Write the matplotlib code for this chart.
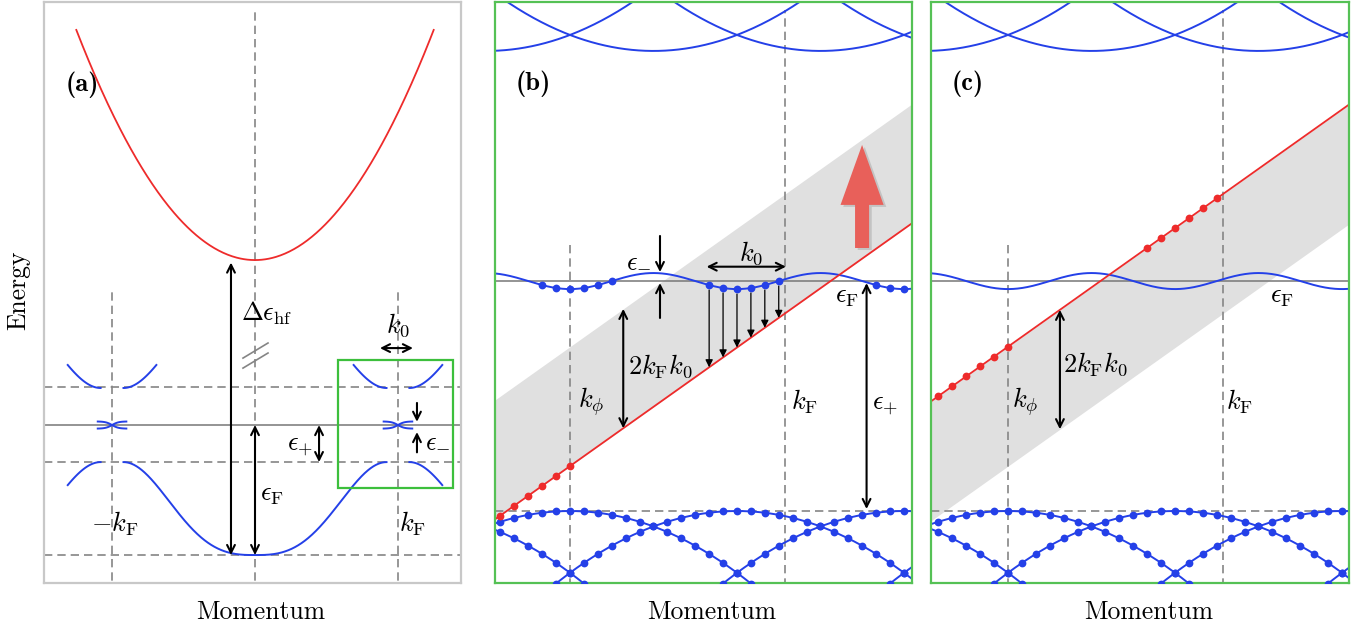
"""Band schematic: (a) full dispersion, (b)/(c) folded bands with a tilted probe band."""
import numpy as np
import matplotlib
matplotlib.use("Agg")
import matplotlib.pyplot as plt
from matplotlib.patches import Rectangle, FancyArrow

plt.rcParams["mathtext.fontset"] = "cm"
plt.rcParams["axes.unicode_minus"] = False

BLUE = "#2440e8"
RED = "#ee2b2b"
GREEN = "#55c155"
SHADE = "#e0e0e0"
DASH = "#858585"
FS = 19

# ---------------- panel (a) parameters (kF = 1, eF = 1) ----------------
kF_a = 1.0
eF_a = 1.0
gap_top = 1.292
gap_bot = 0.715
hf_min = 2.269        # minimum of the red band
hf_curv = 1.133
hf_xmax = 1.25
band_flat = 0.92      # lower band reaches the gap edge here
band_pow = 1.4
band_outer = 1.31
x_cross = 0.1
cross_h = 0.027
green_box = (0.58, 0.515, 1.385, 1.50)   # x0, y0, x1, y1

# ---------------- panels (b), (c) parameters ----------------
period = 1.0
k_phi = 0.0
kF_b = 1.285
eF_b = 1.808
wave_amp = 0.048
low_top = 0.431
low_curv = 0.37
up_bot = 3.186
up_curv = 0.383
probe_e0 = 0.70       # red line at k_phi in (b)
probe_slope = 0.71
shift = 0.715         # 2 kF k0
dot_step = period / 12
wave_dot_k = [-2, -1, 0, 1, 2, 3]
red_dot_k = [0, 1, 2, 3, 4, 5]


def lower_band(x):
    s = np.clip(np.abs(x) / band_flat, 0, 1) ** band_pow
    return gap_bot * (1 - np.cos(np.pi * s)) / 2


def arrow(ax, x0, y0, x1, y1, style="->", lw=1.5, ms=14):
    ax.annotate("", xy=(x1, y1), xytext=(x0, y0),
                arrowprops=dict(arrowstyle=style, color="k", lw=lw,
                                shrinkA=0, shrinkB=0, mutation_scale=ms))


def frame(ax, color):
    ax.set_xticks([])
    ax.set_yticks([])
    for sp in ax.spines.values():
        sp.set_color(color)
        sp.set_linewidth(1.6)


fig = plt.figure(figsize=(13.65, 6.32), dpi=100)
axA = fig.add_axes([44 / 1365, 49 / 632, 417 / 1365, 581 / 632])
axB = fig.add_axes([495 / 1365, 49 / 632, 417 / 1365, 581 / 632])
axC = fig.add_axes([931 / 1365, 49 / 632, 418 / 1365, 581 / 632])

# ======================= (a) =======================
ax = axA
ax.set_xlim(-1.476, 1.441)
ax.set_ylim(-0.215, 4.254)
frame(ax, "#c8c8c8")

dash = dict(color=DASH, lw=1.2, ls=(0, (5, 3)), zorder=1)
for e in [gap_top, gap_bot, 0.0]:
    ax.axhline(e, **dash)
ax.axhline(eF_a, color="#777777", lw=1.1, zorder=1)
ax.plot([-kF_a, -kF_a], [-0.3, 2.04], **dash)
ax.plot([kF_a, kF_a], [-0.3, 2.04], **dash)
ax.plot([0, 0], [-0.3, 4.19], **dash)

xr = np.linspace(-hf_xmax, hf_xmax, 400)
ax.plot(xr, hf_min + hf_curv * xr ** 2, color=RED, lw=1.3, zorder=2)

xc = np.linspace(-band_flat, band_flat, 400)
ax.plot(xc, lower_band(xc), color=BLUE, lw=1.4, zorder=2)
for sgn in (-1, 1):
    xo = sgn * np.linspace(2 * kF_a - band_flat, band_outer, 80)
    ax.plot(xo, lower_band(2 * kF_a - np.abs(xo)), color=BLUE, lw=1.4, zorder=2)
    xu = sgn * np.linspace(2 * kF_a - band_outer, band_flat, 80)
    ax.plot(xu, 2 * eF_a - lower_band(np.abs(xu)), color=BLUE, lw=1.4, zorder=2)
    ax.plot(xo, 2 * eF_a - lower_band(2 * kF_a - np.abs(xo)), color=BLUE, lw=1.4, zorder=2)
    xx = sgn * kF_a + np.linspace(-x_cross, x_cross, 60)
    t = np.tanh((xx - sgn * kF_a) / 0.045) / np.tanh(x_cross / 0.045)
    ax.plot(xx, eF_a + cross_h * t, color=BLUE, lw=1.4, zorder=2)
    ax.plot(xx, eF_a - cross_h * t, color=BLUE, lw=1.4, zorder=2)

# break mark on the long arrow
for off in (0.0, -0.077):
    ax.plot([-0.084, 0.091], [1.515 + off, 1.631 + off], color=DASH, lw=1.2, zorder=2)

arrow(ax, -0.168, 0.0, -0.168, 2.25, "<->")
arrow(ax, 0.0, 0.0, 0.0, eF_a, "<->")
arrow(ax, 0.448, gap_bot, 0.448, eF_a, "<->")
arrow(ax, 1.133, 1.17, 1.133, 1.025, "->")
arrow(ax, 1.133, 0.79, 1.133, 0.946, "->")
arrow(ax, 0.874, 1.592, 1.105, 1.592, "<->")

x0, y0, x1, y1 = green_box
ax.add_patch(Rectangle((x0, y0), x1 - x0, y1 - y0, fill=False,
                       ec="#3cbf3c", lw=1.6, zorder=3))

ax.text(-1.21, 3.62, "(a)", fontsize=19, family="cmb10", ha="center", va="center")
ax.text(-0.10, 1.86, r"$\Delta\epsilon_{\rm hf}$", fontsize=FS, ha="left", va="center")
ax.text(0.119, 0.47, r"$\epsilon_{\rm F}$", fontsize=FS, ha="center", va="center")
ax.text(0.315, 0.85, r"$\epsilon_{+}$", fontsize=FS, ha="center", va="center")
ax.text(1.19, 0.885, r"$\epsilon_{-}$", fontsize=FS, ha="left", va="center")
ax.text(1.0, 1.77, r"$k_0$", fontsize=FS, ha="center", va="center")
ax.text(-0.979, 0.238, r"$-k_{\rm F}$", fontsize=FS, ha="center", va="center")
ax.text(1.105, 0.238, r"$k_{\rm F}$", fontsize=FS, ha="center", va="center")


# ======================= (b), (c) =======================
def lattice_panel(ax, xlim, red_e0, shade_lo, shade_hi, red_dot_x, wave_dots):
    ax.set_xlim(*xlim)
    ax.set_ylim(0, 3.479)
    frame(ax, GREEN)
    x = np.linspace(xlim[0], xlim[1], 600)
    red = red_e0 + probe_slope * (x - k_phi)
    ax.fill_between(x, red + shade_lo, red + shade_hi, color=SHADE, lw=0, zorder=0)

    ax.axhline(eF_b, color="#777777", lw=1.1, zorder=1)
    ax.axhline(low_top, **dash)
    ax.plot([k_phi, k_phi], [-0.1, 2.036], **dash)
    ax.plot([kF_b, kF_b], [-0.1, 3.43], **dash)

    # folded bands, upper and lower
    for n in range(-2, 4):
        cu = k_phi + (n + 0.5) * period
        xu = np.linspace(cu - 1.0, cu + 1.0, 300)
        ax.plot(xu, up_bot + up_curv * (xu - cu) ** 2, color=BLUE, lw=1.4, zorder=2)
        cl = k_phi + n * period
        xl = np.linspace(cl - 1.2, cl + 1.2, 300)
        ax.plot(xl, low_top - low_curv * (xl - cl) ** 2, color=BLUE, lw=1.4, zorder=2)
        kd = cl + np.arange(-13, 14) * dot_step
        ax.plot(kd, low_top - low_curv * (kd - cl) ** 2, "o", color=BLUE,
                ms=5.6, mec="none", zorder=3)

    ax.plot(x, eF_b - wave_amp * np.cos(2 * np.pi * (x - k_phi) / period),
            color=BLUE, lw=1.4, zorder=2)
    if wave_dots:
        for n in range(0, 3):
            wx = np.array([k_phi + n * period + k * dot_step for k in wave_dot_k])
            wx = wx[wx < xlim[1]]
            ax.plot(wx, eF_b - wave_amp * np.cos(2 * np.pi * (wx - k_phi) / period),
                    "o", color=BLUE, ms=5.6, mec="none", zorder=3)

    ax.plot(x, red, color=RED, lw=1.3, zorder=2)
    rd = np.array(red_dot_x)
    ax.plot(rd, red_e0 + probe_slope * (rd - k_phi), "o", color=RED,
            ms=5.6, mec="none", zorder=3)
    return red


left_dots = [k_phi - k * dot_step for k in red_dot_k]

# (b)
ax = axB
lattice_panel(ax, (-0.449, 2.048), probe_e0, 0.0, shift, left_dots, True)
for k in wave_dot_k:
    xx = k_phi + period + k * dot_step
    top = eF_b - wave_amp * np.cos(2 * np.pi * (xx - k_phi) / period) - 0.03
    arrow(ax, xx, top, xx, probe_e0 + probe_slope * xx, "-|>", lw=0.9, ms=11)
arrow(ax, 0.539, 2.078, 0.539, 1.862, "->")
arrow(ax, 0.539, 1.587, 0.539, 1.796, "->")
arrow(ax, 0.818, 1.894, 1.293, 1.894, "<->")
x2k = 0.319
arrow(ax, x2k, probe_e0 + probe_slope * x2k, x2k, probe_e0 + probe_slope * x2k + shift, "<->")
arrow(ax, 1.776, 0.443, 1.776, 1.796, "<->")
ax.add_patch(FancyArrow(1.765, 1.994, 0, 0.617, width=0.084, head_width=0.258,
                        head_length=0.359, length_includes_head=True,
                        color="#a0a0a0", alpha=0.45, lw=0, zorder=4))
ax.add_patch(FancyArrow(1.749, 2.006, 0, 0.617, width=0.084, head_width=0.258,
                        head_length=0.359, length_includes_head=True,
                        color="#e8605a", lw=0, zorder=5))
ax.text(-0.222, 2.988, "(b)", fontsize=19, family="cmb10", ha="center", va="center")
ax.text(0.413, 1.934, r"$\epsilon_{-}$", fontsize=FS, ha="center", va="center")
ax.text(1.084, 1.976, r"$k_0$", fontsize=FS, ha="center", va="center")
ax.text(0.539, 1.30, r"$2k_{\rm F}k_0$", fontsize=FS, ha="center", va="center")
ax.text(0.126, 1.084, r"$k_\phi$", fontsize=FS, ha="center", va="center")
ax.text(1.407, 1.084, r"$k_{\rm F}$", fontsize=FS, ha="center", va="center")
ax.text(1.659, 1.719, r"$\epsilon_{\rm F}$", fontsize=FS, ha="center", va="center")
ax.text(1.886, 1.072, r"$\epsilon_{+}$", fontsize=FS, ha="center", va="center")

# (c): probe band raised by 2 kF k0, carrying the transferred electrons
ax = axC
moved_dots = [k_phi + period + k * dot_step for k in wave_dot_k]
lattice_panel(ax, (-0.461, 2.042), probe_e0 + shift, -shift, 0.0,
              left_dots + moved_dots, False)
x2k = 0.311
e_top = probe_e0 + shift + probe_slope * x2k
arrow(ax, x2k, e_top - shift, x2k, e_top, "<->")
ax.text(-0.24, 2.988, "(c)", fontsize=19, family="cmb10", ha="center", va="center")
ax.text(0.521, 1.311, r"$2k_{\rm F}k_0$", fontsize=FS, ha="center", va="center")
ax.text(0.102, 1.084, r"$k_\phi$", fontsize=FS, ha="center", va="center")
ax.text(1.389, 1.084, r"$k_{\rm F}$", fontsize=FS, ha="center", va="center")
ax.text(1.641, 1.719, r"$\epsilon_{\rm F}$", fontsize=FS, ha="center", va="center")

for a in (axA, axB, axC):
    a.text(0.52, -0.05, "Momentum", transform=a.transAxes, fontsize=18.5,
           family="cmr10", ha="center", va="center")
fig.text(18 / 1365, 1 - 290 / 632, "Energy", rotation=90, fontsize=18.5,
         family="cmr10", ha="center", va="center")

fig.savefig("out.png", dpi=100)
